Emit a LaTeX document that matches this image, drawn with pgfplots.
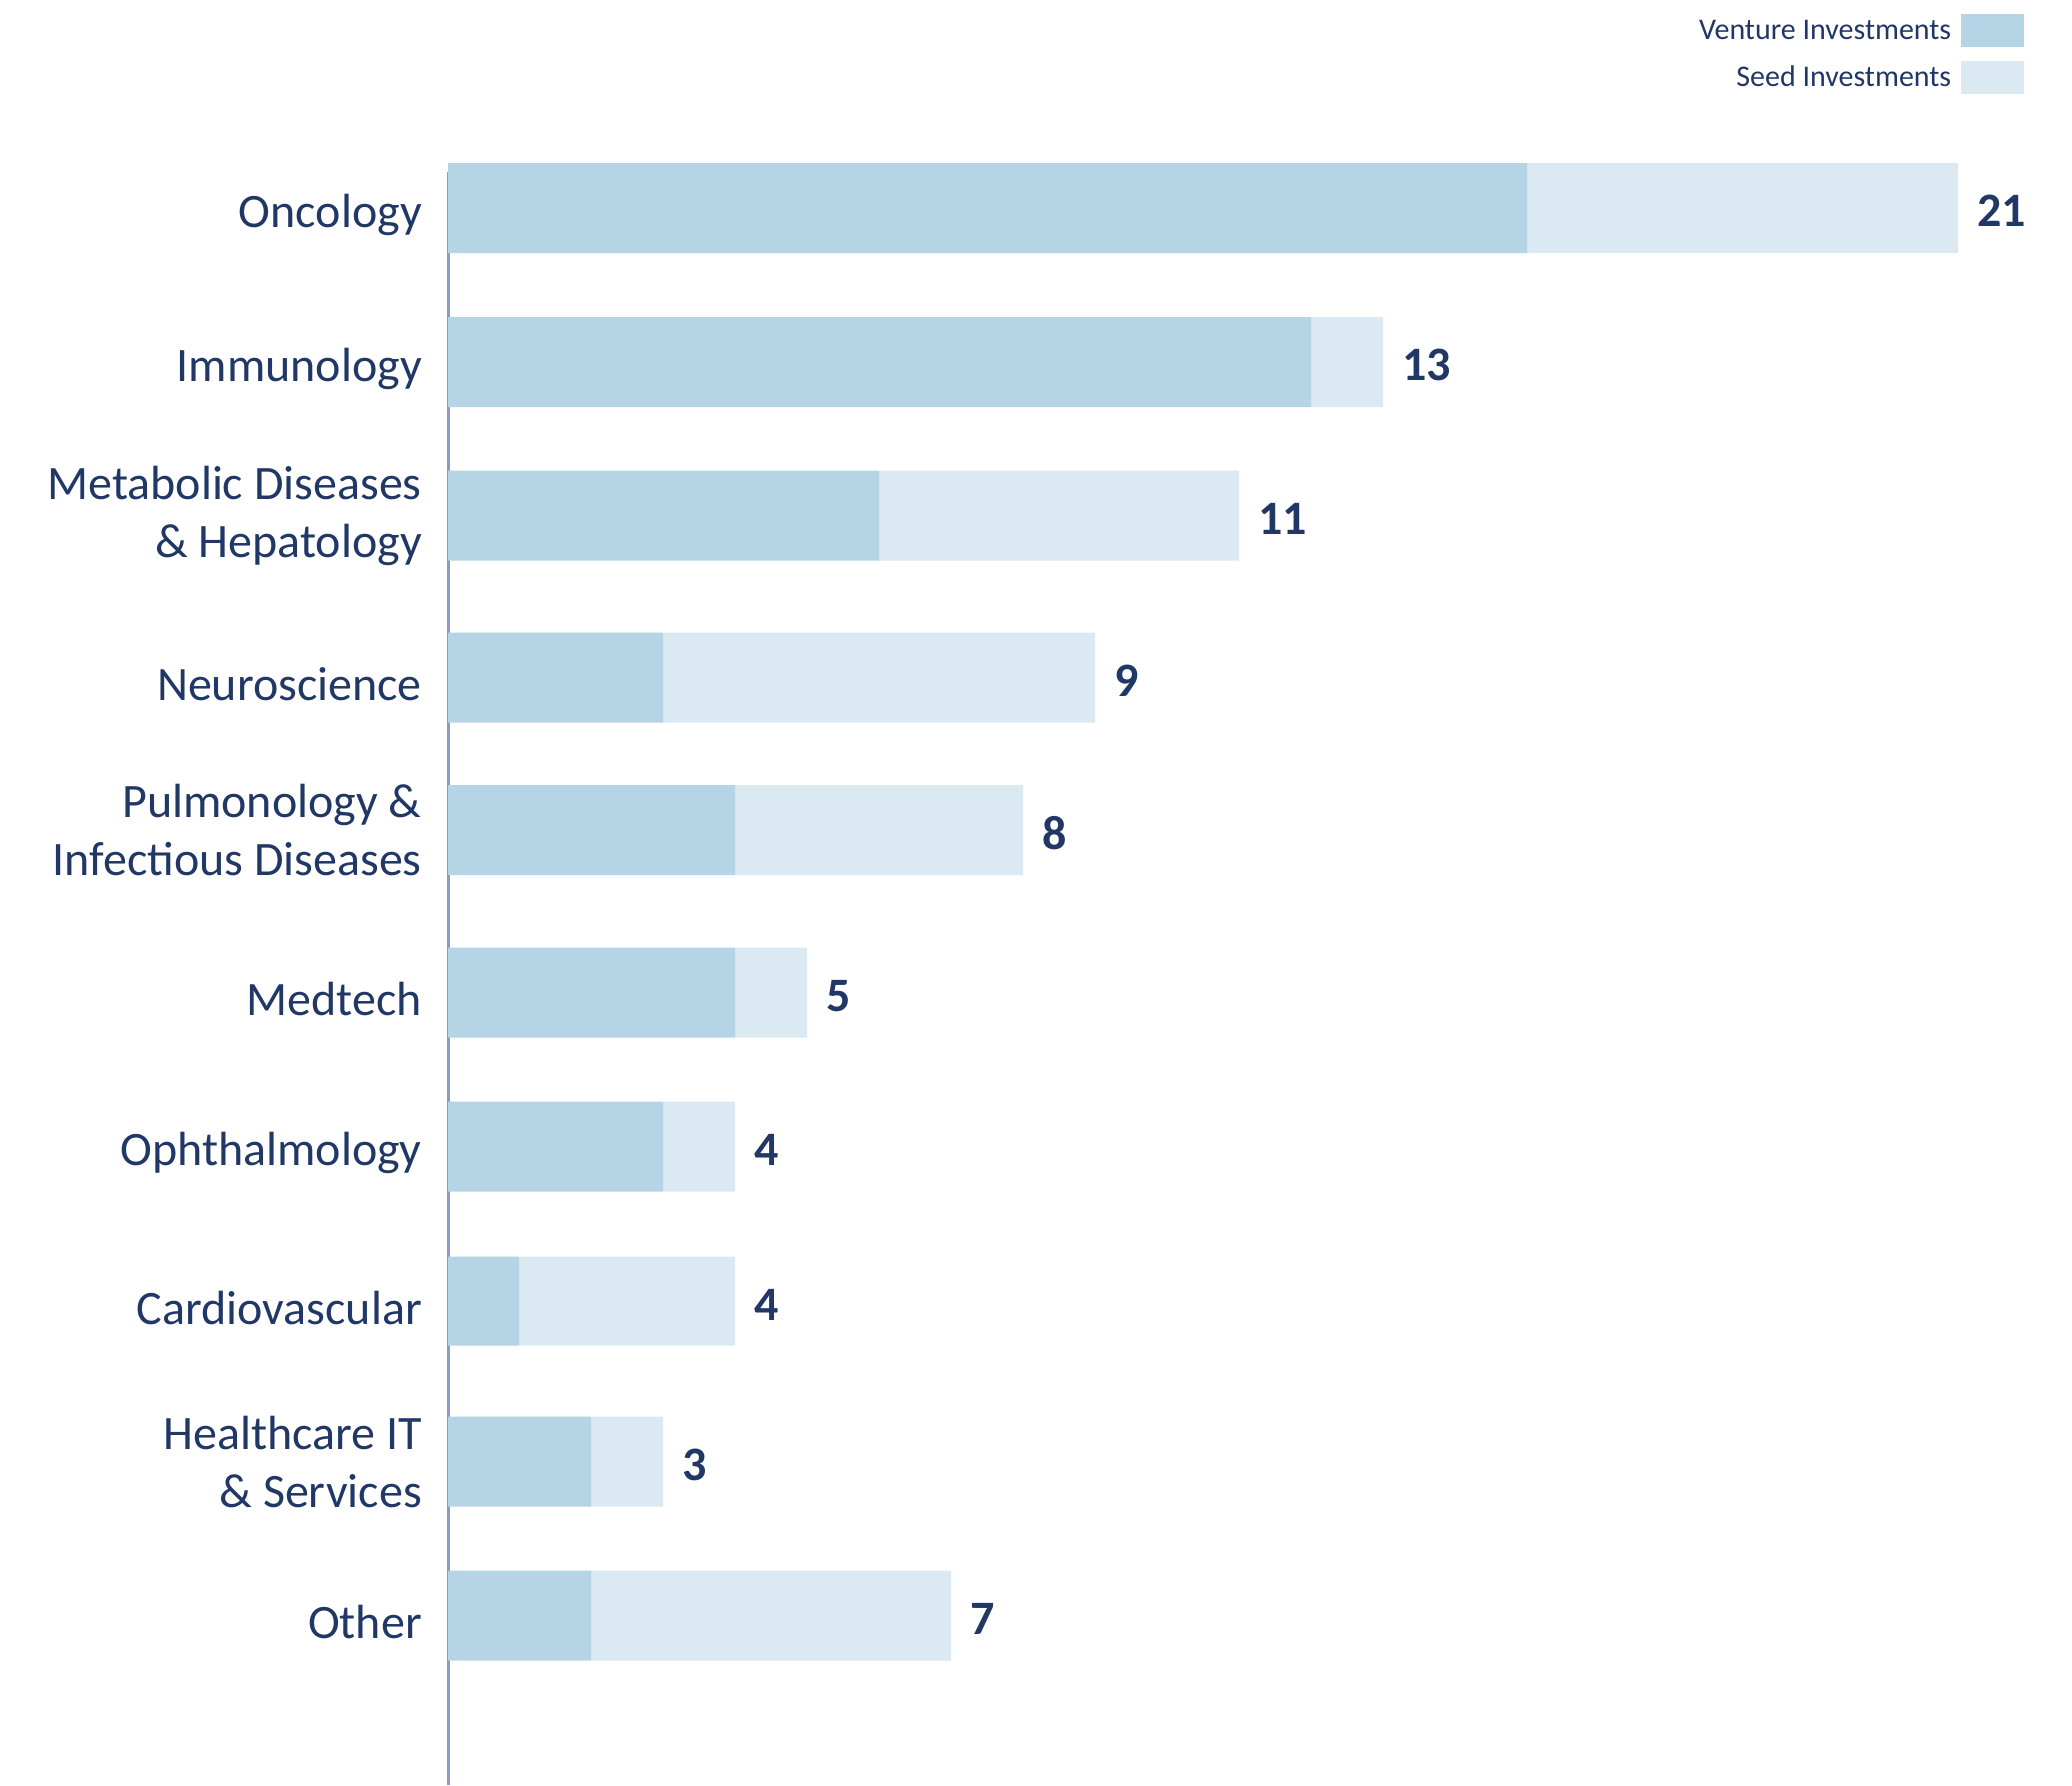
\documentclass[border=0pt]{standalone}
\usepackage{pgfplots}
\usepackage{pgfplotstable}
\pgfplotsset{compat=1.18}
\usepackage{fontspec}
\setmainfont{Carlito}
\definecolor{navy}{RGB}{33,56,102}
\definecolor{venture}{RGB}{181,212,230}
\definecolor{seed}{RGB}{218,233,242}
\definecolor{axisline}{RGB}{138,155,189}
\newcommand\lab[1]{\raisebox{-1.65pt}[\height][\depth]{#1}}
\pgfplotstableread{
pos venture seed total
208 15 6 21
362 12 1 13
516.5 6 5 11
678.5 3 6 9
831 4 4 8
993.5 4 1 5
1147.5 3 1 4
1302.5 1 3 4
1463.5 2 1 3
1617.5 2 5 7
}\data
\pgfplotsset{base/.style={
  at={(112pt,0pt)}, anchor=north west,
  scale only axis, width=378pt, height=446.75pt,
  xmin=0, xmax=21, ymin=0, ymax=1787, y dir=reverse,
  clip=false}}
\begin{document}
\begin{tikzpicture}
\begin{axis}[base,
  axis line style={draw=none}, xtick=\empty,
  ytick={208,362,516.5,678.5,831,993.5,1147.5,1302.5,1463.5,1617.5},
  yticklabels={\lab{Oncology}, \lab{Immunology}, {Metabolic Diseases\\\& Hepatology}, \lab{Neuroscience}, {Pulmonology \&\\Infectious Diseases}, \lab{Medtech}, \lab{Ophthalmology}, \lab{Cardiovascular}, {Healthcare IT\\\& Services}, \lab{Other}},
  major tick length=0pt,
  yticklabel style={align=right, inner sep=0pt, xshift=-6.35pt, text=navy, font=\fontsize{12}{14.5}\selectfont},
  xbar stacked, bar width=90,
  legend cell align=right, legend plot pos=right,
  legend style={at={(axis cs:21.93,13)}, anchor=north east, draw=none, fill=none, inner sep=0pt,
    nodes={inner sep=0pt}, font=\fontsize{7.5}{9}\selectfont, text=navy, row sep=3.5pt,
    /tikz/every odd column/.append style={column sep=2.5pt}},
]
\addplot[fill=venture, draw=none,
  legend image code/.code={\fill[venture] (0pt,-3.6pt) rectangle (15.75pt,4.65pt);}]
  table[x=venture, y=pos] {\data};
\addplot[fill=seed, draw=none,
  legend image code/.code={\fill[seed] (0pt,-3.6pt) rectangle (15.75pt,4.65pt);}]
  table[x=seed, y=pos] {\data};
\legend{Venture Investments, Seed Investments}
\draw[axisline, line width=0.75pt] (axis cs:0,172) -- (axis cs:0,1787);
\end{axis}
\begin{axis}[base, hide axis]
\addplot[only marks, mark=none, point meta=explicit,
  nodes near coords={\makebox[0pt][l]{\pgfmathprintnumber[assume math mode=true]{\pgfplotspointmeta}}},
  nodes near coords align=horizontal,
  nodes near coords style={anchor=west, xshift=4.2pt, yshift=-0.8pt, inner sep=0pt, text=navy, font=\fontsize{12}{12}\selectfont\bfseries}]
  table[x=total, y=pos, meta=total] {\data};
\end{axis}
\pgfresetboundingbox
\path (0,0) rectangle (518.5pt,-446.75pt);
\end{tikzpicture}
\end{document}
